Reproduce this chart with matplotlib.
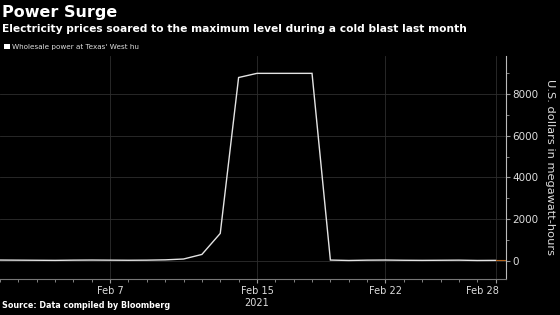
import numpy as np
import pandas as pd
import matplotlib
matplotlib.use('Agg')
import matplotlib.pyplot as plt
import matplotlib.dates as mdates
import matplotlib.transforms as mtransforms

dates = pd.date_range('2021-02-01', '2021-02-28', freq='D')
prices = [30, 25, 20, 15, 25, 30, 25, 20, 25, 40, 80, 300, 1310,
          8800, 9000, 9000, 9000, 9000, 30, 10, 25, 30, 20, 15, 20, 25, 10, 15]
series_label = "Wholesale power at Texas' West hu"
y_ticks = [0, 2000, 4000, 6000, 8000]
x_ticks = ['2021-02-07', '2021-02-15', '2021-02-22', '2021-02-28']
x_tick_labels = ['Feb 7', 'Feb 15\n2021', 'Feb 22', 'Feb 28']

bg = 'black'
fg = 'white'
grid_c = '#2e2e2e'

fig = plt.figure(figsize=(5.6, 3.15), dpi=100, facecolor=bg)
ax = fig.add_axes([0.0, 0.1143, 0.9036, 0.709], facecolor=bg)

ax.plot(dates, prices, color='#e4e4e4', linewidth=1.0, solid_joinstyle='miter')

x_end = pd.Timestamp('2021-02-28 13:40')
ax.set_xlim(pd.Timestamp('2021-02-01'), x_end)
ax.set_ylim(-880, 9850)

# last value marker on the axis
ax.plot([dates[-1], x_end], [prices[-1], prices[-1]], color='#b5651d', linewidth=0.8)

ax.set_xticks(pd.to_datetime(x_ticks))
ax.set_xticklabels(x_tick_labels)
ax.xaxis.set_minor_locator(mdates.DayLocator())
ax.set_yticks(y_ticks)
ax.set_yticks(np.arange(-0, 9001, 1000), minor=True)

ax.yaxis.tick_right()
ax.yaxis.set_label_position('right')
ax.tick_params(axis='both', colors='#999999', labelcolor='#dddddd', labelsize=7, length=3, width=0.8, pad=2)
ax.tick_params(axis='both', which='minor', colors='#999999', length=2.5, width=0.6)
ax.tick_params(axis='y', labelsize=7.5, pad=1.5)
ax.set_ylabel('U.S. dollars in megawatt-hours', color='#dddddd', fontsize=8.2,
              rotation=-90, labelpad=12)

# keep last date label inside the frame
last = ax.get_xticklabels()[-1]
last.set_horizontalalignment('right')
last.set_transform(last.get_transform() + mtransforms.ScaledTranslation(3 / 100, 0, fig.dpi_scale_trans))

for s in ['top', 'left']:
    ax.spines[s].set_visible(False)
ax.spines['right'].set_color('#bbbbbb')
ax.spines['bottom'].set_color('#777777')

ax.grid(True, which='major', color=grid_c, linewidth=0.6)
ax.set_axisbelow(True)

fig.text(0.004, 0.985, 'Power Surge', color=fg, fontsize=11.5, fontweight='bold', va='top')
fig.text(0.004, 0.925, 'Electricity prices soared to the maximum level during a cold blast last month',
         color=fg, fontsize=7.7, fontweight='bold', va='top')
fig.patches.append(plt.Rectangle((0.008, 0.843), 0.009, 0.016, transform=fig.transFigure,
                                 facecolor=fg, edgecolor='none'))
fig.text(0.021, 0.851, series_label, color='#dddddd', fontsize=5.2, va='center')
fig.text(0.004, 0.016, 'Source: Data compiled by Bloomberg', color=fg, fontsize=5.8,
         fontweight='bold', va='bottom')

fig.savefig('out.png', dpi=100, facecolor=bg)
